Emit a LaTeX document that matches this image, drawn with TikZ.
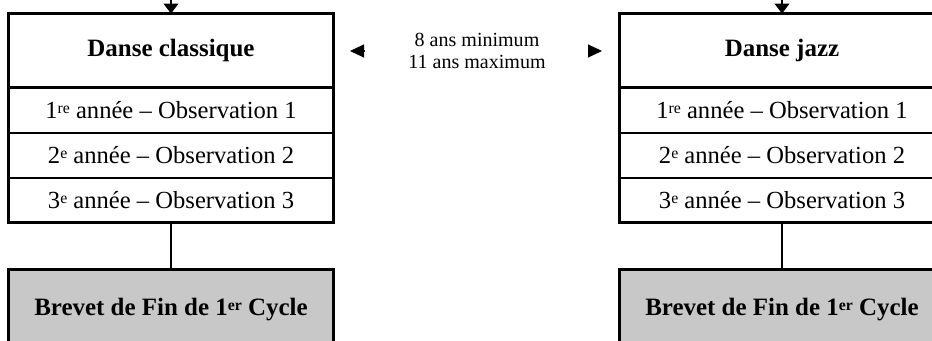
\documentclass[tikz,border=0pt]{standalone}
\usepackage{fontspec}
\setmainfont{Liberation Serif}
\usetikzlibrary{positioning,fit,arrows.meta}

\definecolor{brevetgray}{RGB}{200,200,200}

\newcommand{\expo}[1]{\raisebox{0.5ex}{\fontsize{9}{10}\selectfont #1}}

\tikzset{
  head/.style={draw, line width=1.7pt, minimum width=6.52cm, minimum height=1.49cm,
    font=\fontsize{14.2}{16}\selectfont\bfseries},
  row/.style={draw, line width=1pt, minimum width=6.52cm, minimum height=0.9cm,
    font=\fontsize{14}{16}\selectfont},
  frame/.style={draw, line width=1.7pt, inner sep=0pt},
  brevet/.style={draw, line width=1.7pt, fill=brevetgray, minimum width=6.52cm,
    minimum height=1.6cm, font=\fontsize{14.2}{16}\selectfont\bfseries},
  link/.style={line width=0.6pt},
  tip/.style={line width=0.6pt, -{Triangle[length=0.28cm, width=0.26cm]}},
  intip/.style={line width=0.6pt, -{Triangle[length=0.2cm, width=0.3cm]}},
}

\begin{document}
\begin{tikzpicture}[x=0.02cm, y=-0.02cm, every node/.style={inner sep=0pt, outer sep=0pt}]

\useasboundingbox (0,0) rectangle (932,341);

% classique
\begin{scope}[node distance=0pt]
\node(h1) [head] at (171,50.75) {Danse classique};
\node(r11) [row, below=of h1] {1\expo{re} année -- Observation 1};
\node(r12) [row, below=of r11] {2\expo{e} année -- Observation 2};
\node(r13) [row, below=of r12] {3\expo{e} année -- Observation 3};
\node(b1) [brevet, below=0.94cm of r13] {Brevet de Fin de 1\expo{er} Cycle};
\end{scope}
\node[frame, fit=(h1)(r13)]{};

% jazz
\begin{scope}[node distance=0pt]
\node(h2) [head] at (782,50.75) {Danse jazz};
\node(r21) [row, below=of h2] {1\expo{re} année -- Observation 1};
\node(r22) [row, below=of r21] {2\expo{e} année -- Observation 2};
\node(r23) [row, below=of r22] {3\expo{e} année -- Observation 3};
\node(b2) [brevet, below=0.94cm of r23] {Brevet de Fin de 1\expo{er} Cycle};
\end{scope}
\node[frame, fit=(h2)(r23)]{};

% age limits
\node(ages) [align=center, font=\fontsize{11.4}{12.5}\selectfont] at (477,51) {8 ans minimum\\11 ans maximum};
\coordinate (aL0) at (364,51);
\coordinate (aL) at (350,51);
\coordinate (aR0) at (588,51);
\coordinate (aR) at (602,51);
\draw[tip] (aL0) -- (aL);
\draw[tip] (aR0) -- (aR);

% links
\coordinate (in1) at (171,-20);
\coordinate (in2) at (782,-20);
\draw[intip] (in1) -- (h1);
\draw[intip] (in2) -- (h2);
\draw[link] (r13) -- (b1);
\draw[link] (r23) -- (b2);

\end{tikzpicture}
\end{document}
